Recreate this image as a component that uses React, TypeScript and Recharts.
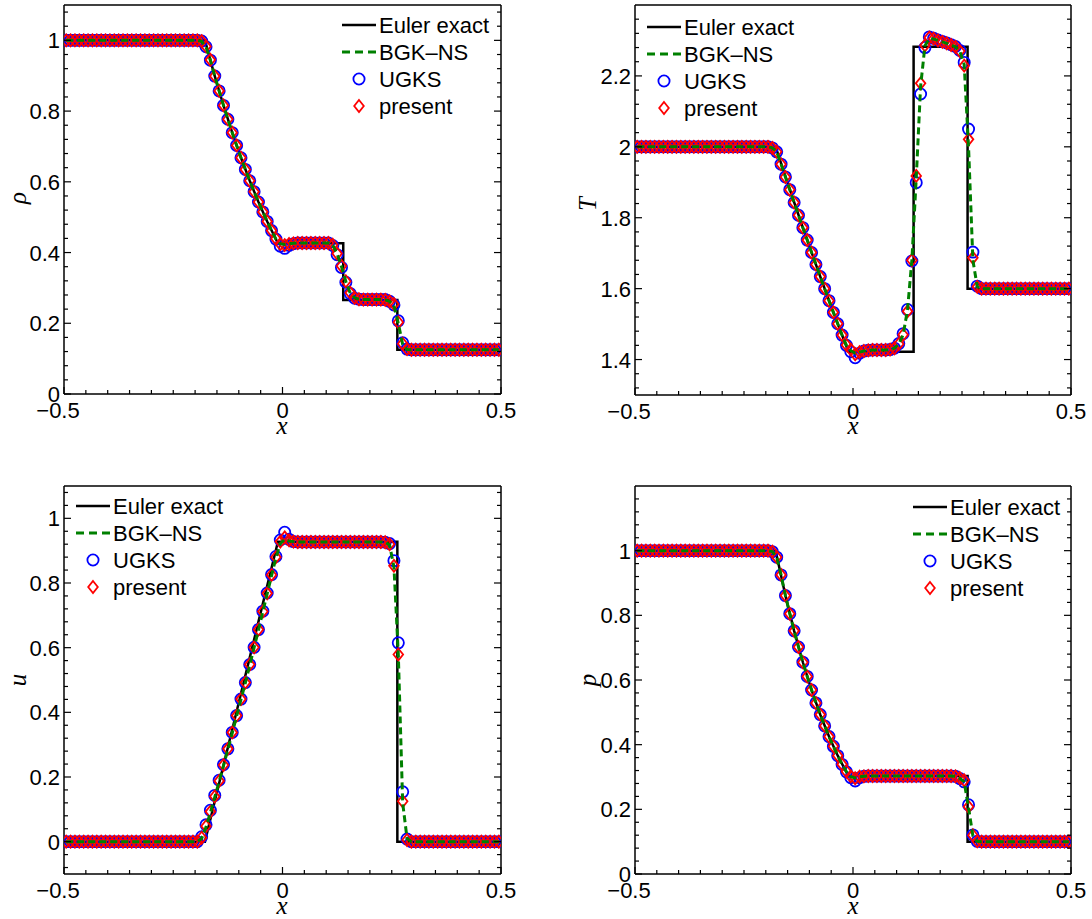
import { ComposedChart, Line, Scatter, XAxis, YAxis, Legend } from "recharts";

/** Helvetica-like face for ticks and legend, Times-like italic for axis titles. */
const SANS = '"Liberation Sans", Arial, Helvetica, sans-serif';
const SERIF = '"Liberation Serif", "Times New Roman", serif';

const BLACK = "#000000";
const GREEN = "#008000";
const BLUE = "#0000ff";
const RED = "#ff0000";

// cell centres of the 100-cell grid
const X_CELLS = [
  -0.495, -0.485, -0.475, -0.465, -0.455, -0.445, -0.435, -0.425, -0.415, -0.405,
  -0.395, -0.385, -0.375, -0.365, -0.355, -0.345, -0.335, -0.325, -0.315, -0.305,
  -0.295, -0.285, -0.275, -0.265, -0.255, -0.245, -0.235, -0.225, -0.215, -0.205,
  -0.195, -0.185, -0.175, -0.165, -0.155, -0.145, -0.135, -0.125, -0.115, -0.105,
  -0.095, -0.085, -0.075, -0.065, -0.055, -0.045, -0.035, -0.025, -0.015, -0.005,
  0.005, 0.015, 0.025, 0.035, 0.045, 0.055, 0.065, 0.075, 0.085, 0.095,
  0.105, 0.115, 0.125, 0.135, 0.145, 0.155, 0.165, 0.175, 0.185, 0.195,
  0.205, 0.215, 0.225, 0.235, 0.245, 0.255, 0.265, 0.275, 0.285, 0.295,
  0.305, 0.315, 0.325, 0.335, 0.345, 0.355, 0.365, 0.375, 0.385, 0.395,
  0.405, 0.415, 0.425, 0.435, 0.445, 0.455, 0.465, 0.475, 0.485, 0.495,
];

// Euler exact solution, polyline vertices
const X_EXACT = [-0.5, -0.1775, -0.155, -0.135, -0.115, -0.095, -0.075, -0.055, -0.035, -0.0105, 0.139, 0.139, 0.2628, 0.2628, 0.5];
const RHO_EXACT = [1, 1, 0.8988, 0.8158, 0.7391, 0.6682, 0.6029, 0.5428, 0.4876, 0.4263, 0.4263, 0.2656, 0.2656, 0.125, 0.125];
const T_EXACT = [2, 2, 1.9164, 1.8436, 1.7722, 1.7022, 1.6336, 1.5664, 1.5006, 1.422, 1.422, 2.2823, 2.2823, 1.6, 1.6];
const U_EXACT = [0, 0, 0.1249, 0.236, 0.3471, 0.4582, 0.5693, 0.6805, 0.7916, 0.9274, 0.9274, 0.9274, 0.9274, 0, 0];
const P_EXACT = [1, 1, 0.8612, 0.752, 0.6549, 0.5687, 0.4925, 0.4251, 0.3659, 0.3031, 0.3031, 0.3031, 0.3031, 0.1, 0.1];

// density
const RHO_BGK = [
  1, 1, 1, 1, 1, 1, 1, 1, 1, 1,
  1, 1, 1, 1, 1, 1, 1, 1, 1, 1,
  1, 1, 1, 1, 1, 1, 1, 1, 1, 1,
  1, 0.997, 0.981, 0.944, 0.899, 0.857, 0.816, 0.777, 0.739, 0.703,
  0.668, 0.635, 0.603, 0.572, 0.543, 0.515, 0.488, 0.462, 0.438, 0.425,
  0.423, 0.425, 0.426, 0.427, 0.427, 0.427, 0.427, 0.427, 0.427, 0.427,
  0.427, 0.421, 0.396, 0.36, 0.318, 0.285, 0.272, 0.268, 0.267, 0.267,
  0.267, 0.267, 0.267, 0.266, 0.262, 0.25, 0.2, 0.14, 0.126, 0.125,
  0.125, 0.125, 0.125, 0.125, 0.125, 0.125, 0.125, 0.125, 0.125, 0.125,
  0.125, 0.125, 0.125, 0.125, 0.125, 0.125, 0.125, 0.125, 0.125, 0.125,
];
const RHO_UGKS = [
  1, 1, 1, 1, 1, 1, 1, 1, 1, 1,
  1, 1, 1, 1, 1, 1, 1, 1, 1, 1,
  1, 1, 1, 1, 1, 1, 1, 1, 1, 1,
  1, 0.998, 0.982, 0.944, 0.899, 0.857, 0.816, 0.777, 0.739, 0.703,
  0.668, 0.635, 0.603, 0.572, 0.543, 0.515, 0.488, 0.462, 0.438, 0.418,
  0.412, 0.42, 0.425, 0.427, 0.427, 0.427, 0.427, 0.427, 0.427, 0.427,
  0.427, 0.42, 0.394, 0.358, 0.316, 0.284, 0.271, 0.268, 0.267, 0.267,
  0.267, 0.267, 0.267, 0.267, 0.262, 0.252, 0.207, 0.145, 0.127, 0.125,
  0.125, 0.125, 0.125, 0.125, 0.125, 0.125, 0.125, 0.125, 0.125, 0.125,
  0.125, 0.125, 0.125, 0.125, 0.125, 0.125, 0.125, 0.125, 0.125, 0.125,
];
const RHO_PRESENT = [
  1, 1, 1, 1, 1, 1, 1, 1, 1, 1,
  1, 1, 1, 1, 1, 1, 1, 1, 1, 1,
  1, 1, 1, 1, 1, 1, 1, 1, 1, 1,
  1, 0.998, 0.983, 0.945, 0.899, 0.857, 0.816, 0.777, 0.739, 0.703,
  0.668, 0.635, 0.603, 0.572, 0.543, 0.515, 0.488, 0.462, 0.439, 0.424,
  0.421, 0.424, 0.426, 0.427, 0.427, 0.427, 0.427, 0.427, 0.427, 0.427,
  0.427, 0.422, 0.397, 0.362, 0.319, 0.286, 0.272, 0.268, 0.267, 0.267,
  0.267, 0.267, 0.267, 0.266, 0.262, 0.254, 0.203, 0.142, 0.127, 0.125,
  0.125, 0.125, 0.125, 0.125, 0.125, 0.125, 0.125, 0.125, 0.125, 0.125,
  0.125, 0.125, 0.125, 0.125, 0.125, 0.125, 0.125, 0.125, 0.125, 0.125,
];

// temperature
const T_BGK = [
  2, 2, 2, 2, 2, 2, 2, 2, 2, 2,
  2, 2, 2, 2, 2, 2, 2, 2, 2, 2,
  2, 2, 2, 2, 2, 2, 2, 2, 2, 2,
  2, 1.997, 1.986, 1.951, 1.915, 1.879, 1.843, 1.807, 1.772, 1.737,
  1.702, 1.668, 1.634, 1.6, 1.566, 1.533, 1.501, 1.469, 1.44, 1.425,
  1.418, 1.421, 1.424, 1.426, 1.427, 1.427, 1.427, 1.427, 1.428, 1.432,
  1.444, 1.47, 1.54, 1.68, 1.91, 2.17, 2.285, 2.305, 2.304, 2.3,
  2.296, 2.292, 2.287, 2.282, 2.27, 2.232, 2.0, 1.68, 1.605, 1.6,
  1.6, 1.6, 1.6, 1.6, 1.6, 1.6, 1.6, 1.6, 1.6, 1.6,
  1.6, 1.6, 1.6, 1.6, 1.6, 1.6, 1.6, 1.6, 1.6, 1.6,
];
const T_UGKS = [
  2, 2, 2, 2, 2, 2, 2, 2, 2, 2,
  2, 2, 2, 2, 2, 2, 2, 2, 2, 2,
  2, 2, 2, 2, 2, 2, 2, 2, 2, 2,
  2, 1.997, 1.986, 1.951, 1.915, 1.879, 1.843, 1.807, 1.772, 1.737,
  1.702, 1.668, 1.634, 1.6, 1.566, 1.533, 1.501, 1.469, 1.44, 1.422,
  1.405, 1.418, 1.424, 1.426, 1.427, 1.427, 1.427, 1.427, 1.428, 1.432,
  1.445, 1.473, 1.541, 1.678, 1.899, 2.149, 2.28, 2.31, 2.306, 2.301,
  2.297, 2.293, 2.288, 2.283, 2.272, 2.238, 2.05, 1.703, 1.607, 1.6,
  1.6, 1.6, 1.6, 1.6, 1.6, 1.6, 1.6, 1.6, 1.6, 1.6,
  1.6, 1.6, 1.6, 1.6, 1.6, 1.6, 1.6, 1.6, 1.6, 1.6,
];
const T_PRESENT = [
  2, 2, 2, 2, 2, 2, 2, 2, 2, 2,
  2, 2, 2, 2, 2, 2, 2, 2, 2, 2,
  2, 2, 2, 2, 2, 2, 2, 2, 2, 2,
  2, 1.997, 1.986, 1.951, 1.915, 1.879, 1.843, 1.807, 1.772, 1.737,
  1.702, 1.668, 1.634, 1.6, 1.566, 1.533, 1.501, 1.469, 1.441, 1.428,
  1.415, 1.421, 1.424, 1.426, 1.427, 1.427, 1.427, 1.427, 1.428, 1.432,
  1.444, 1.47, 1.536, 1.68, 1.918, 2.179, 2.286, 2.308, 2.305, 2.3,
  2.296, 2.292, 2.287, 2.282, 2.27, 2.229, 2.021, 1.687, 1.605, 1.6,
  1.6, 1.6, 1.6, 1.6, 1.6, 1.6, 1.6, 1.6, 1.6, 1.6,
  1.6, 1.6, 1.6, 1.6, 1.6, 1.6, 1.6, 1.6, 1.6, 1.6,
];

// velocity
const U_BGK = [
  0, 0, 0, 0, 0, 0, 0, 0, 0, 0,
  0, 0, 0, 0, 0, 0, 0, 0, 0, 0,
  0, 0, 0, 0, 0, 0, 0, 0, 0, 0,
  0, 0.01, 0.045, 0.09, 0.138, 0.186, 0.235, 0.285, 0.336, 0.388,
  0.44, 0.491, 0.546, 0.6, 0.655, 0.711, 0.767, 0.823, 0.878, 0.922,
  0.935, 0.93, 0.928, 0.927, 0.927, 0.927, 0.927, 0.927, 0.927, 0.927,
  0.927, 0.927, 0.927, 0.927, 0.927, 0.927, 0.927, 0.927, 0.927, 0.927,
  0.927, 0.927, 0.927, 0.926, 0.918, 0.85, 0.58, 0.12, 0.01, 0,
  0, 0, 0, 0, 0, 0, 0, 0, 0, 0,
  0, 0, 0, 0, 0, 0, 0, 0, 0, 0,
];
const U_UGKS = [
  0, 0, 0, 0, 0, 0, 0, 0, 0, 0,
  0, 0, 0, 0, 0, 0, 0, 0, 0, 0,
  0, 0, 0, 0, 0, 0, 0, 0, 0, 0,
  0, 0.015, 0.052, 0.097, 0.143, 0.19, 0.238, 0.287, 0.338, 0.39,
  0.441, 0.492, 0.548, 0.601, 0.656, 0.713, 0.769, 0.826, 0.882, 0.933,
  0.957, 0.935, 0.928, 0.927, 0.927, 0.927, 0.927, 0.927, 0.927, 0.927,
  0.927, 0.927, 0.927, 0.927, 0.927, 0.927, 0.927, 0.927, 0.927, 0.927,
  0.927, 0.927, 0.927, 0.926, 0.922, 0.869, 0.615, 0.154, 0.008, 0,
  0, 0, 0, 0, 0, 0, 0, 0, 0, 0,
  0, 0, 0, 0, 0, 0, 0, 0, 0, 0,
];
const U_PRESENT = [
  0, 0, 0, 0, 0, 0, 0, 0, 0, 0,
  0, 0, 0, 0, 0, 0, 0, 0, 0, 0,
  0, 0, 0, 0, 0, 0, 0, 0, 0, 0,
  0, 0.012, 0.048, 0.093, 0.14, 0.188, 0.237, 0.287, 0.338, 0.39,
  0.441, 0.492, 0.548, 0.601, 0.656, 0.712, 0.768, 0.825, 0.88, 0.928,
  0.941, 0.932, 0.928, 0.927, 0.927, 0.927, 0.927, 0.927, 0.927, 0.927,
  0.927, 0.927, 0.927, 0.927, 0.927, 0.927, 0.927, 0.927, 0.927, 0.927,
  0.927, 0.927, 0.927, 0.926, 0.92, 0.853, 0.579, 0.125, 0.005, 0,
  0, 0, 0, 0, 0, 0, 0, 0, 0, 0,
  0, 0, 0, 0, 0, 0, 0, 0, 0, 0,
];

// pressure
const P_BGK = [
  1, 1, 1, 1, 1, 1, 1, 1, 1, 1,
  1, 1, 1, 1, 1, 1, 1, 1, 1, 1,
  1, 1, 1, 1, 1, 1, 1, 1, 1, 1,
  1, 0.997, 0.98, 0.925, 0.861, 0.805, 0.752, 0.702, 0.655, 0.611,
  0.569, 0.529, 0.493, 0.458, 0.425, 0.395, 0.366, 0.339, 0.316, 0.301,
  0.297, 0.301, 0.302, 0.303, 0.303, 0.303, 0.303, 0.303, 0.303, 0.303,
  0.303, 0.303, 0.303, 0.303, 0.303, 0.303, 0.303, 0.303, 0.303, 0.303,
  0.303, 0.303, 0.303, 0.302, 0.296, 0.285, 0.205, 0.118, 0.101, 0.1,
  0.1, 0.1, 0.1, 0.1, 0.1, 0.1, 0.1, 0.1, 0.1, 0.1,
  0.1, 0.1, 0.1, 0.1, 0.1, 0.1, 0.1, 0.1, 0.1, 0.1,
];
const P_UGKS = [
  1, 1, 1, 1, 1, 1, 1, 1, 1, 1,
  1, 1, 1, 1, 1, 1, 1, 1, 1, 1,
  1, 1, 1, 1, 1, 1, 1, 1, 1, 1,
  1, 0.997, 0.98, 0.925, 0.861, 0.805, 0.752, 0.702, 0.655, 0.611,
  0.569, 0.529, 0.493, 0.458, 0.425, 0.395, 0.366, 0.339, 0.316, 0.298,
  0.288, 0.298, 0.302, 0.303, 0.303, 0.303, 0.303, 0.303, 0.303, 0.303,
  0.303, 0.303, 0.303, 0.303, 0.303, 0.303, 0.303, 0.303, 0.303, 0.303,
  0.303, 0.303, 0.303, 0.302, 0.295, 0.285, 0.214, 0.121, 0.101, 0.1,
  0.1, 0.1, 0.1, 0.1, 0.1, 0.1, 0.1, 0.1, 0.1, 0.1,
  0.1, 0.1, 0.1, 0.1, 0.1, 0.1, 0.1, 0.1, 0.1, 0.1,
];
const P_PRESENT = [
  1, 1, 1, 1, 1, 1, 1, 1, 1, 1,
  1, 1, 1, 1, 1, 1, 1, 1, 1, 1,
  1, 1, 1, 1, 1, 1, 1, 1, 1, 1,
  1, 0.997, 0.98, 0.925, 0.861, 0.805, 0.752, 0.702, 0.655, 0.611,
  0.569, 0.529, 0.493, 0.458, 0.425, 0.395, 0.366, 0.339, 0.317, 0.302,
  0.296, 0.301, 0.302, 0.303, 0.303, 0.303, 0.303, 0.303, 0.303, 0.303,
  0.303, 0.303, 0.303, 0.303, 0.303, 0.303, 0.303, 0.303, 0.303, 0.303,
  0.303, 0.303, 0.303, 0.302, 0.297, 0.29, 0.208, 0.12, 0.101, 0.1,
  0.1, 0.1, 0.1, 0.1, 0.1, 0.1, 0.1, 0.1, 0.1, 0.1,
  0.1, 0.1, 0.1, 0.1, 0.1, 0.1, 0.1, 0.1, 0.1, 0.1,
];

// ticks (major + minor) and which of them carry a label
const X_TICKS = [-0.5, -0.45, -0.4, -0.35, -0.3, -0.25, -0.2, -0.15, -0.1, -0.05, 0, 0.05, 0.1, 0.15, 0.2, 0.25, 0.3, 0.35, 0.4, 0.45, 0.5];
const X_LABELS = [-0.5, 0, 0.5];
const RHO_TICKS = [0, 0.04, 0.08, 0.12, 0.16, 0.2, 0.24, 0.28, 0.32, 0.36, 0.4, 0.44, 0.48, 0.52, 0.56, 0.6, 0.64, 0.68, 0.72, 0.76, 0.8, 0.84, 0.88, 0.92, 0.96, 1, 1.04, 1.08];
const T_TICKS = [1.32, 1.36, 1.4, 1.44, 1.48, 1.52, 1.56, 1.6, 1.64, 1.68, 1.72, 1.76, 1.8, 1.84, 1.88, 1.92, 1.96, 2, 2.04, 2.08, 2.12, 2.16, 2.2, 2.24, 2.28, 2.32, 2.36];
const U_TICKS = [-0.08, -0.04, 0, 0.04, 0.08, 0.12, 0.16, 0.2, 0.24, 0.28, 0.32, 0.36, 0.4, 0.44, 0.48, 0.52, 0.56, 0.6, 0.64, 0.68, 0.72, 0.76, 0.8, 0.84, 0.88, 0.92, 0.96, 1, 1.04, 1.08];
const P_TICKS = [0, 0.04, 0.08, 0.12, 0.16, 0.2, 0.24, 0.28, 0.32, 0.36, 0.4, 0.44, 0.48, 0.52, 0.56, 0.6, 0.64, 0.68, 0.72, 0.76, 0.8, 0.84, 0.88, 0.92, 0.96, 1, 1.04, 1.08, 1.12, 1.16];
const UNIT_LABELS = [0, 0.2, 0.4, 0.6, 0.8, 1];
const T_LABELS = [1.4, 1.6, 1.8, 2, 2.2];

const LEGEND_LABELS = ["Euler exact", "BGK\u2013NS", "UGKS", "present"];

const FONT_SIZE = 22;
const MAJOR_LEN = 7;
const MINOR_LEN = 4;

type Pt = { x: number; y: number };
const toPoints = (xs: number[], ys: number[]): Pt[] => xs.map((x, i) => ({ x, y: ys[i] }));

const fmt = (v: number) => (v < 0 ? "\u2212" + String(-v) : String(v));

// Axes are 1px thick, so the tick anchor (x, y) sits right on the box edge.
function BottomTick({ x, y, payload, labels }: any) {
  const major = labels.includes(payload.value);
  return (
    <g>
      <line x1={x} y1={y} x2={x} y2={y - (major ? MAJOR_LEN : MINOR_LEN)} stroke={BLACK} strokeWidth={1.2} />
      {major && (
        <text x={x + (payload.value < 0 ? -6 : 0)} y={y + 24} textAnchor="middle" fontFamily={SANS} fontSize={FONT_SIZE} fill={BLACK}>
          {fmt(payload.value)}
        </text>
      )}
    </g>
  );
}

function TopTick({ x, y, payload, labels }: any) {
  const major = labels.includes(payload.value);
  return <line x1={x} y1={y} x2={x} y2={y + (major ? MAJOR_LEN : MINOR_LEN)} stroke={BLACK} strokeWidth={1.2} />;
}

function LeftTick({ x, y, payload, labels }: any) {
  const major = labels.includes(payload.value);
  return (
    <g>
      <line x1={x} y1={y} x2={x + (major ? MAJOR_LEN : MINOR_LEN)} y2={y} stroke={BLACK} strokeWidth={1.2} />
      {major && (
        <text x={x - 4} y={y + 8} textAnchor="end" fontFamily={SANS} fontSize={FONT_SIZE} fill={BLACK}>
          {fmt(payload.value)}
        </text>
      )}
    </g>
  );
}

function RightTick({ x, y, payload, labels }: any) {
  const major = labels.includes(payload.value);
  return <line x1={x} y1={y} x2={x - (major ? MAJOR_LEN : MINOR_LEN)} y2={y} stroke={BLACK} strokeWidth={1.2} />;
}

const circleShape = (p: any) => <circle cx={p.cx} cy={p.cy} r={5.6} fill="none" stroke={BLUE} strokeWidth={1.8} />;

const diamondShape = (p: any) => (
  <path d={`M${p.cx},${p.cy - 6}L${p.cx + 4.8},${p.cy}L${p.cx},${p.cy + 6}L${p.cx - 4.8},${p.cy}Z`} fill="none" stroke={RED} strokeWidth={1.8} />
);

function LegendBox() {
  const rowGap = 27;
  return (
    <svg width={170} height={112} style={{ display: "block", overflow: "visible" }}>
      {LEGEND_LABELS.map((label, i) => {
        const cy = 12 + i * rowGap;
        let sample = null;
        if (i === 0) sample = <line x1={0} y1={cy} x2={34} y2={cy} stroke={BLACK} strokeWidth={2.5} />;
        if (i === 1) sample = <line x1={0} y1={cy} x2={34} y2={cy} stroke={GREEN} strokeWidth={3} strokeDasharray="8 5" />;
        if (i === 2) sample = circleShape({ cx: 17, cy });
        if (i === 3) sample = diamondShape({ cx: 17, cy });
        return (
          <g key={label}>
            {sample}
            <text x={37} y={cy + 8} fontFamily={SANS} fontSize={FONT_SIZE} fill={BLACK}>
              {label}
            </text>
          </g>
        );
      })}
    </svg>
  );
}

interface PanelProps {
  left: number;
  top: number;
  height: number;
  // plot box inside the 546-wide chart
  box: { top: number; right: number; bottom: number; left: number };
  yDomain: [number, number];
  yTicks: number[];
  yLabels: number[];
  exact: number[];
  bgk: number[];
  ugks: number[];
  present: number[];
  legendAt: { left: number; top: number };
}

function Panel(props: PanelProps) {
  const { left, top, height, box, yDomain, yTicks, yLabels, exact, bgk, ugks, present, legendAt } = props;
  const axisLine = { stroke: BLACK, strokeWidth: 1.5 };
  // every axis is 1px thick, margins shrink by that pixel
  const margin = { top: box.top - 1, right: box.right - 1, bottom: box.bottom - 1, left: box.left - 1 };
  return (
    <div style={{ position: "absolute", left, top }}>
      <ComposedChart width={546} height={height} margin={margin}>
        <XAxis xAxisId="bottom" dataKey="x" type="number" domain={[-0.5, 0.5]} ticks={X_TICKS} interval={0} allowDataOverflow
          height={1} tickSize={0} tickMargin={0} tickLine={false} axisLine={axisLine} tick={<BottomTick labels={X_LABELS} />} />
        <XAxis xAxisId="top" orientation="top" type="number" domain={[-0.5, 0.5]} ticks={X_TICKS} interval={0} allowDataOverflow
          height={1} tickSize={0} tickMargin={0} tickLine={false} axisLine={axisLine} tick={<TopTick labels={X_LABELS} />} />
        <YAxis yAxisId="left" dataKey="y" type="number" domain={yDomain} ticks={yTicks} interval={0} allowDataOverflow
          width={1} tickSize={0} tickMargin={0} tickLine={false} axisLine={axisLine} tick={<LeftTick labels={yLabels} />} />
        <YAxis yAxisId="right" orientation="right" type="number" domain={yDomain} ticks={yTicks} interval={0} allowDataOverflow
          width={1} tickSize={0} tickMargin={0} tickLine={false} axisLine={axisLine} tick={<RightTick labels={yLabels} />} />
        <Line xAxisId="bottom" yAxisId="left" data={toPoints(X_EXACT, exact)} dataKey="y" type="linear"
          stroke={BLACK} strokeWidth={2.5} dot={false} activeDot={false} isAnimationActive={false} />
        <Scatter xAxisId="bottom" yAxisId="left" data={toPoints(X_CELLS, ugks)} dataKey="y" shape={circleShape} isAnimationActive={false} />
        <Scatter xAxisId="bottom" yAxisId="left" data={toPoints(X_CELLS, present)} dataKey="y" shape={diamondShape} isAnimationActive={false} />
        <Line xAxisId="bottom" yAxisId="left" data={toPoints(X_CELLS, bgk)} dataKey="y" type="linear" zIndex={900}
          stroke={GREEN} strokeWidth={3} strokeDasharray="7 4" dot={false} activeDot={false} isAnimationActive={false} />
        <Legend layout="vertical" align="center" verticalAlign="middle" content={() => <LegendBox />}
          wrapperStyle={{ left: legendAt.left, top: legendAt.top, width: 170, height: 112 }} />
      </ComposedChart>
    </div>
  );
}

// small line box so the italic title does not crowd the tick labels
const titleStyle = (x: number, y: number, rotate: boolean): React.CSSProperties => ({
  position: "absolute",
  left: x,
  top: y,
  transform: `translate(-50%, -50%)${rotate ? " rotate(-90deg)" : ""}`,
  fontFamily: SERIF,
  fontStyle: "italic",
  fontSize: 25,
  lineHeight: "6px",
  color: BLACK,
  whiteSpace: "nowrap",
});

export default function App() {
  return (
    <div style={{ position: "absolute", left: 0, top: 0, width: 1092, height: 919, background: "#ffffff", overflow: "hidden" }}>
      <Panel left={0} top={0} height={459} box={{ top: 5, right: 45, bottom: 65, left: 64 }}
        yDomain={[0, 1.1]} yTicks={RHO_TICKS} yLabels={UNIT_LABELS}
        exact={RHO_EXACT} bgk={RHO_BGK} ugks={RHO_UGKS} present={RHO_PRESENT} legendAt={{ left: 342, top: 13 }} />
      <Panel left={546} top={0} height={459} box={{ top: 5, right: 21, bottom: 64, left: 89 }}
        yDomain={[1.3, 2.4]} yTicks={T_TICKS} yLabels={T_LABELS}
        exact={T_EXACT} bgk={T_BGK} ugks={T_UGKS} present={T_PRESENT} legendAt={{ left: 101, top: 15 }} />
      <Panel left={0} top={459} height={460} box={{ top: 27, right: 45, bottom: 45, left: 64 }}
        yDomain={[-0.1, 1.1]} yTicks={U_TICKS} yLabels={UNIT_LABELS}
        exact={U_EXACT} bgk={U_BGK} ugks={U_UGKS} present={U_PRESENT} legendAt={{ left: 76, top: 35 }} />
      <Panel left={546} top={459} height={460} box={{ top: 27, right: 21, bottom: 45, left: 89 }}
        yDomain={[0, 1.2]} yTicks={P_TICKS} yLabels={UNIT_LABELS}
        exact={P_EXACT} bgk={P_BGK} ugks={P_UGKS} present={P_PRESENT} legendAt={{ left: 367, top: 36 }} />

      <div style={titleStyle(18, 198, true)}>ρ</div>
      <div style={titleStyle(588, 204, true)}>T</div>
      <div style={titleStyle(18, 680, true)}>u</div>
      <div style={titleStyle(588, 680, true)}>p</div>
      <div style={titleStyle(282, 426, false)}>x</div>
      <div style={titleStyle(853, 426, false)}>x</div>
      <div style={titleStyle(282, 906, false)}>x</div>
      <div style={titleStyle(853, 906, false)}>x</div>
    </div>
  );
}
